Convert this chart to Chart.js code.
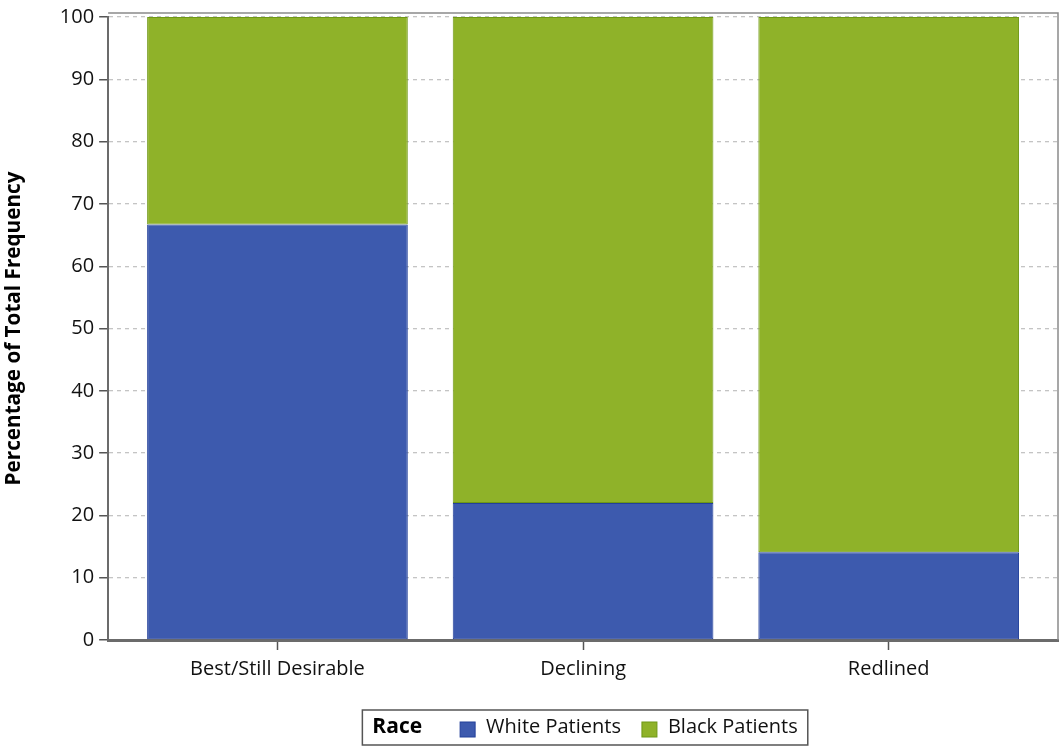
<!DOCTYPE html>
<html>
<head>
<meta charset="utf-8">
<script src="https://cdn.jsdelivr.net/npm/chart.js@4.4.1/dist/chart.umd.min.js"></script>
<style>
  html, body { margin: 0; padding: 0; background: #fff; }
  #wrap { width: 1064px; height: 750px; position: relative; }
</style>
</head>
<body>
<div id="wrap"><canvas id="grafica"></canvas></div>
<script>
// datos
const categorias = ['Best/Still Desirable', 'Declining', 'Redlined'];
const pacientesBlancos = [66.7, 22.0, 14.1];
const pacientesNegros = [33.3, 78.0, 85.9];
const ticksY = [0, 10, 20, 30, 40, 50, 60, 70, 80, 90, 100];
const tituloLeyenda = 'Race';
const etiquetasSeries = ['White Patients', 'Black Patients'];

const fuente = "'Open Sans', 'Noto Sans', sans-serif";
const azul = '#3d5aae', azulBorde = '#23409a';
const verde = '#8fb229', verdeBorde = '#6f9816';
const holguraX = 0.054; // espacio extra (en categorias) a cada lado del eje x

// marco gris y leyenda dibujada a mano
const marcoYLeyenda = {
  id: 'marcoYLeyenda',
  afterDraw(chart) {
    const ctx = chart.ctx;
    const a = chart.chartArea;
    ctx.save();
    ctx.strokeStyle = '#8a8a8a';
    ctx.lineWidth = 1.5;
    ctx.beginPath();
    ctx.moveTo(a.left, a.top - 4);
    ctx.lineTo(a.right, a.top - 4);
    ctx.lineTo(a.right, a.bottom);
    ctx.stroke();

    // leyenda
    const colores = [azul, verde];
    const bordes = [azulBorde, verdeBorde];
    ctx.font = 'bold 21px ' + fuente;
    const wTitulo = ctx.measureText(tituloLeyenda).width;
    ctx.font = '20px ' + fuente;
    const wEtiq = etiquetasSeries.map(t => ctx.measureText(t).width);
    const caja = 15, pad = 10, gapTitulo = 38, gapCaja = 11, gapItem = 21;
    const ancho = pad + wTitulo + gapTitulo + caja + gapCaja + wEtiq[0] + gapItem + caja + gapCaja + wEtiq[1] + pad;
    const centro = (a.left + a.right) / 2 + 2;
    const x0 = centro - ancho / 2, y0 = 710, alto = 35;
    ctx.fillStyle = '#fff';
    ctx.fillRect(x0, y0, ancho, alto);
    ctx.strokeStyle = '#555';
    ctx.lineWidth = 1.5;
    ctx.strokeRect(x0, y0, ancho, alto);
    const yc = y0 + alto / 2;
    ctx.textBaseline = 'middle';
    ctx.textAlign = 'left';
    let x = x0 + pad;
    ctx.fillStyle = '#000';
    ctx.font = 'bold 21px ' + fuente;
    ctx.fillText(tituloLeyenda, x, yc);
    x += wTitulo + gapTitulo;
    ctx.font = '20px ' + fuente;
    for (let i = 0; i < etiquetasSeries.length; i++) {
      ctx.fillStyle = colores[i];
      ctx.fillRect(x, yc - caja / 2 + 2, caja, caja);
      ctx.strokeStyle = bordes[i];
      ctx.lineWidth = 1;
      ctx.strokeRect(x, yc - caja / 2 + 2, caja, caja);
      x += caja + gapCaja;
      ctx.fillStyle = '#111';
      ctx.fillText(etiquetasSeries[i], x, yc);
      x += wEtiq[i] + gapItem;
    }
    ctx.restore();
  }
};

function grafica_barras_raza(grafica) {
  return new Chart(grafica, {
    type: 'bar',
    data: {
      labels: categorias,
      datasets: [{
        label: etiquetasSeries[0],
        data: pacientesBlancos,
        backgroundColor: azul,
        borderColor: azulBorde,
        borderWidth: 1,
        borderSkipped: false,
        categoryPercentage: 1,
        barPercentage: 0.853
      }, {
        label: etiquetasSeries[1],
        data: pacientesNegros,
        backgroundColor: verde,
        borderColor: verdeBorde,
        borderWidth: 1,
        borderSkipped: false,
        categoryPercentage: 1,
        barPercentage: 0.853
      }]
    },
    options: {
      responsive: true,
      maintainAspectRatio: false,
      animation: false,
      layout: { padding: { top: 4, right: 6, bottom: 62, left: 2 } },
      plugins: {
        legend: { display: false },
        tooltip: { enabled: false }
      },
      scales: {
        x: {
          stacked: true,
          // deja un margen a los lados como en la original
          afterUpdate: (eje) => {
            eje._startValue = eje.min - 0.5 - holguraX;
            eje._valueRange = (eje.max - eje.min) + 1 + 2 * holguraX;
          },
          grid: {
            offset: false,
            drawOnChartArea: false,
            drawTicks: true,
            tickLength: 10,
            tickColor: '#555',
            tickWidth: 1.5
          },
          border: { display: true, color: '#6b6b6b', width: 3 },
          ticks: {
            color: '#111',
            padding: 7,
            font: { family: fuente, size: 20 }
          }
        },
        y: {
          stacked: true,
          min: 0,
          max: 100,
          afterBuildTicks: (eje) => { eje.ticks = ticksY.map(v => ({ value: v })); },
          grid: {
            color: '#c4c4c4',
            lineWidth: 1.3,
            drawTicks: true,
            tickLength: 9,
            tickColor: '#555',
            tickWidth: 1.5,
            tickBorderDash: [1, 0]
          },
          border: { display: true, color: '#6b6b6b', width: 2, dash: [4, 4] },
          ticks: {
            color: '#111',
            padding: 5,
            font: { family: fuente, size: 20 }
          },
          title: {
            display: true,
            text: 'Percentage of Total Frequency',
            color: '#000',
            padding: { top: 0, bottom: 28 },
            font: { family: fuente, size: 20.7, weight: 'bold' }
          }
        }
      }
    },
    plugins: [marcoYLeyenda]
  });
}

grafica_barras_raza(document.getElementById('grafica'));
</script>
</body>
</html>
